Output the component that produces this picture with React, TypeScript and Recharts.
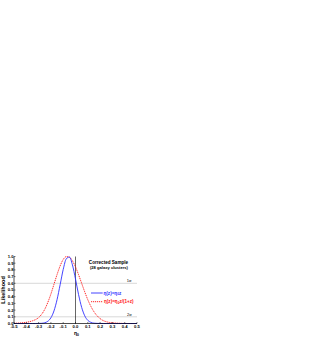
import { LineChart, Line, XAxis, YAxis, ReferenceLine } from 'recharts';

// eta_0 grid and the two normalised likelihood curves
const etaGrid = [
    -0.5, -0.475, -0.45, -0.425, -0.4, -0.375, -0.35, -0.325, -0.3, -0.275,
    -0.25, -0.225, -0.2, -0.175, -0.15, -0.125, -0.1, -0.075, -0.05, -0.025,
    0, 0.025, 0.05, 0.075, 0.1, 0.125, 0.15, 0.175, 0.2, 0.225,
    0.25, 0.275, 0.3, 0.325, 0.35, 0.375, 0.4, 0.425, 0.45, 0.475, 0.5,
];
const linearModel = [
    0, 0, 0, 0, 0, 0, 0, 0, 0.001, 0.003,
    0.011, 0.033, 0.085, 0.188, 0.356, 0.578, 0.806, 0.965, 0.992, 0.875,
    0.663, 0.431, 0.241, 0.115, 0.047, 0.017, 0.005, 0.002, 0.001, 0,
    0, 0, 0, 0, 0, 0, 0, 0, 0, 0, 0,
];
const ratioModel = [
    0.003, 0.005, 0.008, 0.012, 0.018, 0.027, 0.04, 0.058, 0.088, 0.138,
    0.212, 0.315, 0.44, 0.585, 0.73, 0.86, 0.955, 0.998, 0.99, 0.935,
    0.845, 0.728, 0.6, 0.472, 0.355, 0.256, 0.176, 0.116, 0.073, 0.044,
    0.027, 0.016, 0.011, 0.007, 0.004, 0.002, 0.001, 0, 0, 0, 0,
];
const xTicks = [-0.5, -0.4, -0.3, -0.2, -0.1, 0, 0.1, 0.2, 0.3, 0.4, 0.5];
const yTicks = [0, 0.1, 0.2, 0.3, 0.4, 0.5, 0.6, 0.7, 0.8, 0.9, 1];
const sigmaLevels = [0.6, 0.1];

const rows = etaGrid.map((eta, i) => ({ eta, linear: linearModel[i], ratio: ratioModel[i] }));

const font = '"Liberation Sans", Arial, sans-serif';
const tickStyle = { fontSize: 4.2, fontFamily: font, fontWeight: 700, fill: '#000' };
const BLUE = '#2f2fff';
const RED = '#ff1010';

export default function App() {
    return (
        <div style={{ position: 'absolute', left: 0, top: 0, width: 316, height: 338 }}>
            <LineChart
                width={316}
                height={338}
                data={rows}
                margin={{ top: 256.5, right: 179, bottom: 4.5, left: 6 }}
            >
                <XAxis
                    dataKey="eta"
                    type="number"
                    domain={[-0.5, 0.5]}
                    ticks={xTicks}
                    tickFormatter={(v) => v.toFixed(1)}
                    height={10}
                    tick={tickStyle}
                    tickSize={-1.5}
                    tickMargin={3.5}
                    axisLine={{ stroke: '#000', strokeWidth: 0.7 }}
                    tickLine={{ stroke: '#000', strokeWidth: 0.5 }}
                    interval={0}
                    allowDataOverflow
                />
                <XAxis
                    xAxisId="top"
                    orientation="top"
                    dataKey="eta"
                    type="number"
                    domain={[-0.5, 0.5]}
                    ticks={xTicks}
                    height={0}
                    tick={false}
                    tickSize={-1.5}
                    axisLine={{ stroke: '#000', strokeWidth: 0.7 }}
                    tickLine={{ stroke: '#000', strokeWidth: 0.5 }}
                    interval={0}
                />
                <YAxis
                    domain={[0, 1]}
                    ticks={yTicks}
                    tickFormatter={(v) => v.toFixed(1)}
                    width={8}
                    tick={tickStyle}
                    tickSize={-1.5}
                    tickMargin={2}
                    axisLine={{ stroke: '#000', strokeWidth: 0.7 }}
                    tickLine={{ stroke: '#000', strokeWidth: 0.5 }}
                    interval={0}
                />
                <YAxis
                    yAxisId="right"
                    orientation="right"
                    domain={[0, 1]}
                    ticks={yTicks}
                    width={0}
                    tick={false}
                    tickSize={-1.5}
                    axisLine={{ stroke: '#000', strokeWidth: 0.7 }}
                    tickLine={{ stroke: '#000', strokeWidth: 0.5 }}
                    interval={0}
                />
                {sigmaLevels.map((s) => (
                    <ReferenceLine key={s} y={s} stroke="#bdbdbd" strokeWidth={0.6} />
                ))}
                <ReferenceLine x={0} stroke="#000" strokeWidth={0.6} />
                <Line
                    dataKey="ratio"
                    type="monotone"
                    stroke={RED}
                    strokeWidth={0.9}
                    strokeDasharray="1.2 0.8"
                    dot={false}
                    isAnimationActive={false}
                />
                <Line
                    dataKey="linear"
                    type="monotone"
                    stroke={BLUE}
                    strokeWidth={0.9}
                    dot={false}
                    isAnimationActive={false}
                />
            </LineChart>

            {/* annotations: legend, sigma labels, axis titles */}
            <svg
                width={316}
                height={338}
                style={{ position: 'absolute', left: 0, top: 0, pointerEvents: 'none' }}
                fontFamily={font}
                fontWeight={700}
            >
                <text x={108.5} y={263.6} fontSize={4.6} textAnchor="middle">Corrected Sample</text>
                <text x={109} y={268.8} fontSize={4.1} textAnchor="middle">(28 galaxy clusters)</text>

                <line x1={91} x2={102.7} y1={293} y2={293} stroke={BLUE} strokeWidth={0.9} />
                <text x={103.5} y={294.6} fontSize={4.6} fill={BLUE}>
                    η(z)=η<tspan fontSize={3.2} dy={0.8}>0</tspan><tspan dy={-0.8}>z</tspan>
                </text>
                <line x1={91} x2={103} y1={301.7} y2={301.7} stroke={RED} strokeWidth={0.9} strokeDasharray="1.2 0.8" />
                <text x={104} y={303.3} fontSize={4.6} fill={RED}>
                    η(z)=η<tspan fontSize={3.2} dy={0.8}>0</tspan><tspan dy={-0.8}>z/(1+z)</tspan>
                </text>

                <text x={126.7} y={282.4} fontSize={4} fontWeight={400}>1σ</text>
                <text x={127} y={315.8} fontSize={4} fontWeight={400}>2σ</text>

                <text x={5.2} y={290} fontSize={5.5} textAnchor="middle" transform="rotate(-90 5.2 290)">
                    Likelihood
                </text>
                <text x={74} y={334.5} fontSize={5}>
                    η<tspan fontSize={3.4} dy={1}>0</tspan>
                </text>
            </svg>
        </div>
    );
}
